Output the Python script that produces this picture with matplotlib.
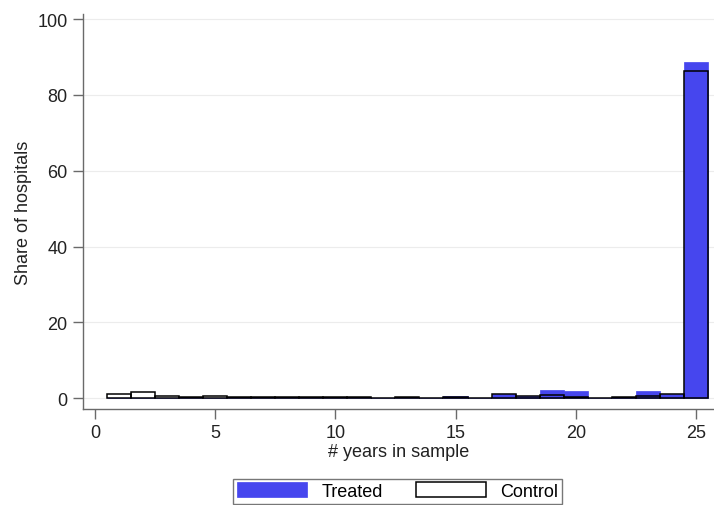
import numpy as np
import matplotlib.pyplot as plt

plt.rcParams['font.family'] = ['Liberation Sans', 'DejaVu Sans']

years = np.arange(1, 26)
treated = [0.0, 0.0, 0.0, 0.0, 0.0, 0.0, 0.0, 0.0, 0.0, 0.0,
           0.0, 0.0, 0.0, 0.0, 0.6, 0.0, 1.1, 0.5, 2.3, 1.8,
           0.0, 0.4, 1.9, 1.0, 88.7]
control = [1.0, 1.6, 0.6, 0.2, 0.5, 0.2, 0.3, 0.2, 0.2, 0.2,
           0.3, 0.1, 0.3, 0.0, 0.2, 0.1, 1.2, 0.5, 0.9, 0.3,
           0.0, 0.3, 0.5, 1.0, 86.2]

fig = plt.figure(figsize=(7.14, 5.06), dpi=100)
ax = fig.add_axes([0.116, 0.19, 0.884, 0.78])

ax.bar(years, treated, width=1.0, color='#4646ee', edgecolor='#4646ee',
       linewidth=0.5, label='Treated', zorder=2)
ax.bar(years, control, width=1.0, fill=False, edgecolor='black',
       linewidth=1.1, label='Control', zorder=3)

ax.set_xlim(-0.5, 25.75)
ax.set_ylim(-2.8, 101.3)
ax.set_xticks([0, 5, 10, 15, 20, 25])
ax.set_yticks([0, 20, 40, 60, 80, 100])
ax.grid(axis='y', color='#ececec', linewidth=0.8, zorder=0)
ax.set_axisbelow(True)

for s in ['top', 'right']:
    ax.spines[s].set_visible(False)
for s in ['left', 'bottom']:
    ax.spines[s].set_color('#6a6a6a')
    ax.spines[s].set_linewidth(1.0)
ax.tick_params(colors='#6a6a6a', labelcolor='#222222', labelsize=13,
               length=7, width=1.0, pad=4)

ax.set_xlabel('# years in sample', fontsize=13, color='#222222', labelpad=1)
ax.set_ylabel('Share of hospitals', fontsize=13, color='#222222', labelpad=4)

leg = fig.legend(loc='center', bbox_to_anchor=(0.557, 0.027), ncol=2,
                 fontsize=13, frameon=True, fancybox=False,
                 handlelength=3.9, handleheight=0.9, handletextpad=0.8,
                 columnspacing=1.8, borderpad=0.2, borderaxespad=0)
leg.get_frame().set_edgecolor('#555555')
leg.get_frame().set_linewidth(1.0)

fig.savefig('out.png', dpi=100)
